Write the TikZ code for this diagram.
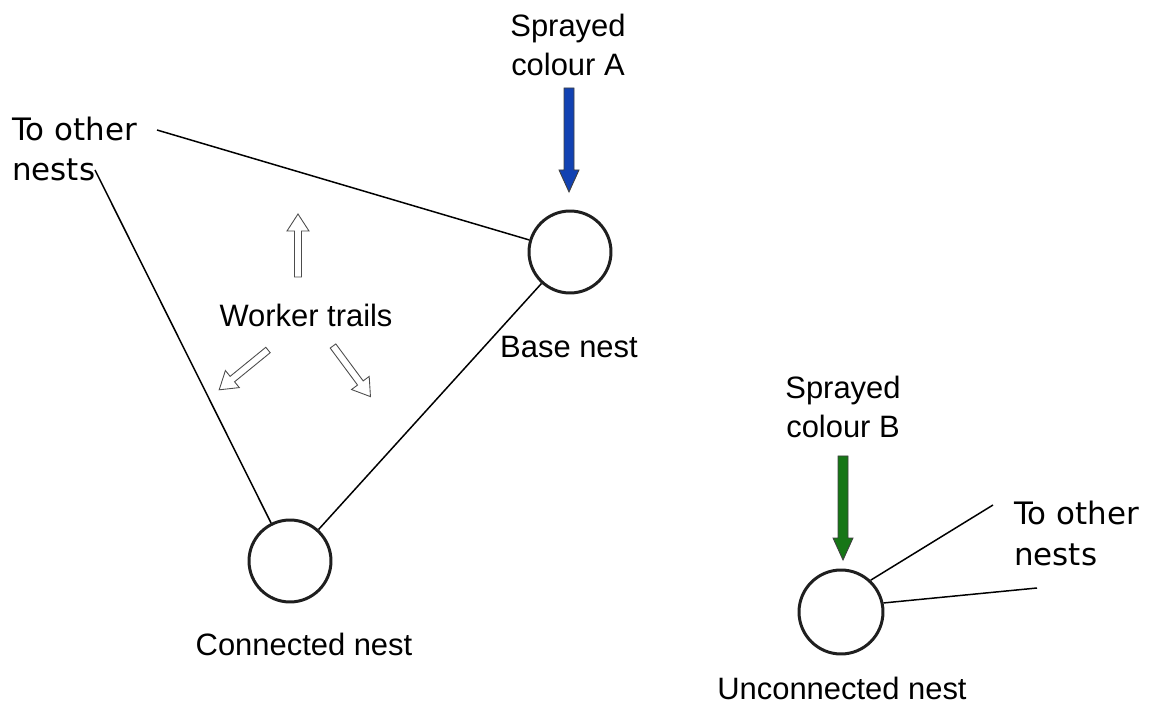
\documentclass[tikz,border=0pt]{standalone}
\usepackage{fontspec}
\setmainfont{Liberation Sans}
\newfontfamily\widefont{DejaVu Sans}
\usetikzlibrary{calc}
\definecolor{sprayA}{RGB}{18,66,178}
\definecolor{sprayB}{RGB}{22,118,22}

% block arrows: tail, angle, length
\newcommand{\sprayarrow}[2]{%
  \draw[spray,fill=#1] #2 ++(-5,0) -- ++(0,82) -- ++(-5,0) -- ++(10,22)
    -- ++(10,-22) -- ++(-5,0) -- ++(0,-82) -- cycle;}
\newcommand{\trailarrow}[2]{%
  \draw[open arrow,shift={#1},rotate=#2] (0,-3.5) -- (46,-3.5) -- (46,-11)
    -- (63,0) -- (46,11) -- (46,3.5) -- (0,3.5) -- cycle;}

\begin{document}
\begin{tikzpicture}[x=0.02cm,y=-0.02cm,
  every node/.style={font=\fontsize{17.6}{22.7}\selectfont},
  nest/.style={circle,draw=black!88,line width=1.7pt,minimum size=1.64cm,inner sep=0pt},
  link/.style={line width=0.85pt},
  spray/.style={draw=black!75,line width=0.5pt},
  open arrow/.style={draw=black!70,line width=0.5pt,fill=white}]
  \useasboundingbox (0,0) rectangle (1160,709);

  % nests
  \node[nest] (base) at (570,252) {};
  \node[nest] (conn) at (290,561) {};
  \node[nest,minimum size=1.68cm] (unconn) at (841,612) {};

  % labels
  \node[anchor=base] (lbase) at (569,358) {Base nest};
  \node[anchor=base] (lconn) at (304,655) {Connected nest};
  \node[anchor=base] (lunconn) at (842,699) {Unconnected nest};
  \node[anchor=base] (lworker) at (306,327) {Worker trails};
  \node[anchor=base,align=center] (lsprayA) at (568,76) {Sprayed\\colour A};
  \node[anchor=base,align=center] (lsprayB) at (843,438) {Sprayed\\colour B};
  \node[anchor=base west,align=left,font=\widefont\fontsize{17.6}{23}\selectfont]
    (lotherL) at (6,181) {To other\\nests};
  \node[anchor=base west,align=left,font=\widefont\fontsize{17.6}{23}\selectfont]
    (lotherR) at (1008,565) {To other\\nests};

  % trails between nests
  \coordinate (toL1) at (157,130);
  \coordinate (toL2) at (95,170);
  \coordinate (toR1) at (993,505);
  \coordinate (toR2) at (1037,588);
  \draw[link] (toL1) -- (base);
  \draw[link] (toL2) -- (conn);
  \draw[link] (base) -- (conn);
  \draw[link] (unconn.47) -- (toR1);
  \draw[link] (unconn.12) -- (toR2);

  % sprayed colours
  \sprayarrow{sprayA}{(569,88)}
  \sprayarrow{sprayB}{(843,456)}

  % worker trail arrows
  \trailarrow{(298,277)}{90}
  \trailarrow{(268,350)}{219.2}
  \trailarrow{(333,346)}{-53.5}
\end{tikzpicture}
\end{document}
